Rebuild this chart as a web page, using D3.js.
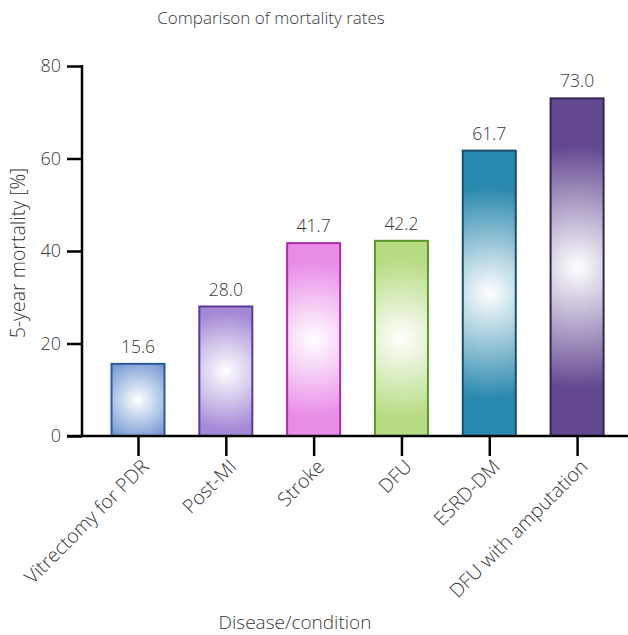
<!DOCTYPE html>
<html><head><meta charset="utf-8">
<script src="https://cdn.jsdelivr.net/npm/d3@7"></script>
<style>
body{margin:0;background:#fff;}
text{font-family:"Open Sans","Noto Sans",sans-serif;fill:#383838;font-weight:300;}
</style></head>
<body><svg id="chart" width="628" height="635"></svg>
<script>
const categories = ["Vitrectomy for PDR","Post-MI","Stroke","DFU","ESRD-DM","DFU with amputation"];
const values = [15.6, 28.0, 41.7, 42.2, 61.7, 73.0];
const fillColors = ["#7399d4","#a48ad6","#e98de8","#b8dc84","#2a89ae","#634891"];
const strokeColors = ["#2d5a9a","#5b3a9a","#b02ab0","#5a9a2a","#1a4e6a","#302650"];
const yTicks = [0,20,40,60,80];

const svg = d3.select("#chart");
const y = d3.scaleLinear().domain([0,80]).range([436,66]);
const x = d3.scalePoint().domain(categories).range([94.1,621]).padding(0.5);
const bw = 55;
const defs = svg.append("defs");

categories.forEach((c,i)=>{
  const h = y(0)-y(values[i]);
  const g = defs.append("radialGradient").attr("id","g"+i)
    .attr("gradientUnits","userSpaceOnUse")
    .attr("cx",x(c)).attr("cy",y(values[i]/2))
    .attr("r",20+0.3*h);
  g.append("stop").attr("offset","0").attr("stop-color","#ffffff");
  g.append("stop").attr("offset","1").attr("stop-color",fillColors[i]);
});

// bars
svg.selectAll("rect.bar").data(categories).enter().append("rect")
  .attr("class","bar")
  .attr("x",d=>x(d)-bw/2+1)
  .attr("y",(d,i)=>y(values[i]))
  .attr("width",bw-2)
  .attr("height",(d,i)=>y(0)-y(values[i]))
  .attr("fill",(d,i)=>"url(#g"+i+")")
  .attr("stroke",(d,i)=>strokeColors[i])
  .attr("stroke-width",2);

// value labels
svg.selectAll("text.val").data(categories).enter().append("text")
  .attr("x",d=>x(d)).attr("y",(d,i)=>y(values[i])-11)
  .attr("text-anchor","middle").attr("font-size",17.5)
  .text((d,i)=>values[i].toFixed(1));

// y axis
const yAxis = svg.append("g").attr("transform","translate(82,0)")
  .call(d3.axisLeft(y).tickValues(yTicks).tickSize(15).tickPadding(6));
yAxis.select(".domain").remove();
yAxis.selectAll(".tick line").attr("stroke","#000").attr("stroke-width",2.5);
yAxis.selectAll(".tick text").attr("font-size",18).attr("fill","#383838")
  .style("font-family","'Open Sans','Noto Sans',sans-serif").style("font-weight",300);
svg.append("line").attr("x1",82).attr("x2",82).attr("y1",y(80)-1).attr("y2",y(0))
  .attr("stroke","#000").attr("stroke-width",2.5);

// x axis
const xAxis = svg.append("g").attr("transform","translate(0,436)")
  .call(d3.axisBottom(x).tickSize(20).tickFormat(""));
xAxis.select(".domain").remove();
xAxis.selectAll(".tick line").attr("stroke","#000").attr("stroke-width",2.5);
svg.append("line").attr("x1",67).attr("x2",628).attr("y1",436).attr("y2",436)
  .attr("stroke","#000").attr("stroke-width",2.5);

svg.selectAll("text.xl").data(categories).enter().append("text")
  .attr("transform",d=>`translate(${x(d)+7},${463}) rotate(-45)`)
  .attr("text-anchor","end").attr("font-size",19.5).attr("dy","0.35em")
  .text(d=>d);

// titles
svg.append("text").attr("x",271).attr("y",24).attr("text-anchor","middle")
  .attr("font-size",17).text("Comparison of mortality rates");
svg.append("text").attr("transform","translate(25,253) rotate(-90)")
  .attr("text-anchor","middle").attr("font-size",19.5).text("5-year mortality [%]");
svg.append("text").attr("x",295).attr("y",629).attr("text-anchor","middle")
  .attr("font-size",19).text("Disease/condition");
</script></body></html>
